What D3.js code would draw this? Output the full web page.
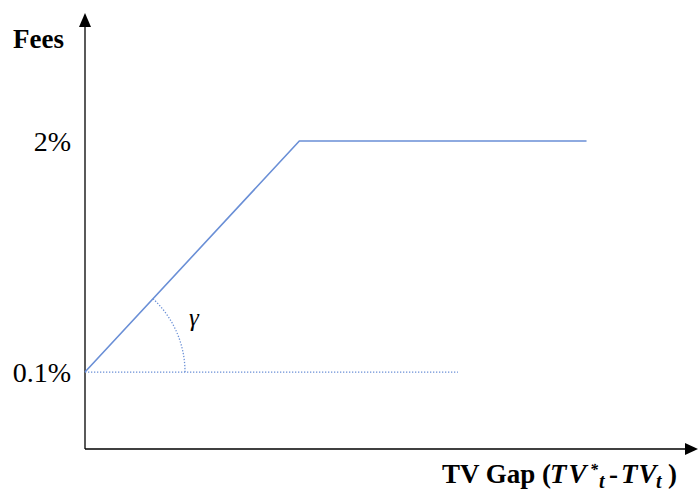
<!DOCTYPE html>
<html><head><meta charset="utf-8">
<script src="https://cdn.jsdelivr.net/npm/d3@7"></script>
<style>body{margin:0;background:#fff}svg{display:block}</style>
</head><body>
<svg id="c" width="698" height="491"></svg>
<script>
// Data
const feeX = [0, 1, 2.34];          // TV gap (conceptual units)
const feeY = [0.1, 2, 2];           // fee in %
const refX = [0, 1.74];             // dotted reference line at base fee
const refY = [0.1, 0.1];
const yTickValues = [2, 0.1];
const yTickLabels = ["2%", "0.1%"];
const yTitle = "Fees";
const angleLabel = "γ";

const svg = d3.select("#c");
const x = d3.scaleLinear().domain([0, 2.86]).range([85, 698]);
const y = d3.scaleLinear().domain([-0.533, 3.045]).range([449, 14]);
const blue = "#6a8fd6";

// axes
svg.append("line").attr("x1", x(0)).attr("x2", x(0)).attr("y1", y(-0.533)).attr("y2", 24)
  .attr("stroke", "#000").attr("stroke-width", 1.3);
svg.append("line").attr("x1", x(0)).attr("x2", 688).attr("y1", y(-0.533)).attr("y2", y(-0.533))
  .attr("stroke", "#000").attr("stroke-width", 1.3);
svg.append("path").attr("d", `M${x(0)},13 L${x(0)-6},27 L${x(0)+6},27 Z`).attr("fill", "#000");
svg.append("path").attr("d", `M698,${y(-0.533)} L685,${y(-0.533)-6} L685,${y(-0.533)+6} Z`).attr("fill", "#000");

// tick labels
svg.selectAll("text.tick").data(yTickValues).enter().append("text")
  .attr("x", 71).attr("y", d => y(d)).attr("dy", "0.35em")
  .attr("text-anchor", "end").attr("font-family", "Liberation Serif")
  .attr("font-size", 28).text((d, i) => yTickLabels[i]);

// titles
svg.append("text").attr("x", 13).attr("y", 48).attr("font-family", "Liberation Serif")
  .attr("font-weight", "bold").attr("font-size", 27).text(yTitle);

const xt = svg.append("text").attr("x", 442).attr("y", 483)
  .attr("font-family", "Liberation Serif").attr("font-weight", "bold").attr("font-size", 27);
xt.append("tspan").attr("x", 442).attr("y", 483).text("TV Gap (");
xt.append("tspan").attr("x", 550).attr("y", 483).attr("font-style", "italic").attr("letter-spacing", 2).text("TV");
xt.append("tspan").attr("x", 590).attr("y", 475).attr("font-style", "italic").attr("font-size", 16).text("*");
xt.append("tspan").attr("x", 599).attr("y", 488).attr("font-style", "italic").attr("font-size", 20).text("t");
xt.append("tspan").attr("x", 609).attr("y", 483).text("-");
xt.append("tspan").attr("x", 621).attr("y", 483).attr("font-style", "italic").attr("letter-spacing", 1).text("TV");
xt.append("tspan").attr("x", 656).attr("y", 488).attr("font-style", "italic").attr("font-size", 20).text("t");
xt.append("tspan").attr("x", 668).attr("y", 483).text(")");

// fee line
const line = d3.line().x(d => x(d[0])).y(d => y(d[1]));
svg.append("path").datum(feeX.map((v, i) => [v, feeY[i]])).attr("d", line)
  .attr("fill", "none").attr("stroke", blue).attr("stroke-width", 1.6);

// dotted reference
svg.append("path").datum(refX.map((v, i) => [v, refY[i]])).attr("d", line)
  .attr("fill", "none").attr("stroke", blue).attr("stroke-width", 1.3).attr("stroke-dasharray", "1.3,1.7");

// angle arc
const cx = x(0), cy = y(0.1);
const ang = Math.atan2(y(0.1) - y(2), x(1) - x(0));
const r = 100;
const arc = d3.path();
arc.moveTo(cx + r * Math.cos(ang), cy - r * Math.sin(ang));
arc.arc(cx, cy, r, -ang, 0);
svg.append("path").attr("d", arc.toString()).attr("fill", "none").attr("stroke", blue)
  .attr("stroke-width", 1.3).attr("stroke-dasharray", "1.3,1.7");
svg.append("text").attr("x", 189).attr("y", 326).attr("font-family", "Liberation Serif")
  .attr("font-style", "italic").attr("font-size", 25).text(angleLabel);
</script>
</body></html>
